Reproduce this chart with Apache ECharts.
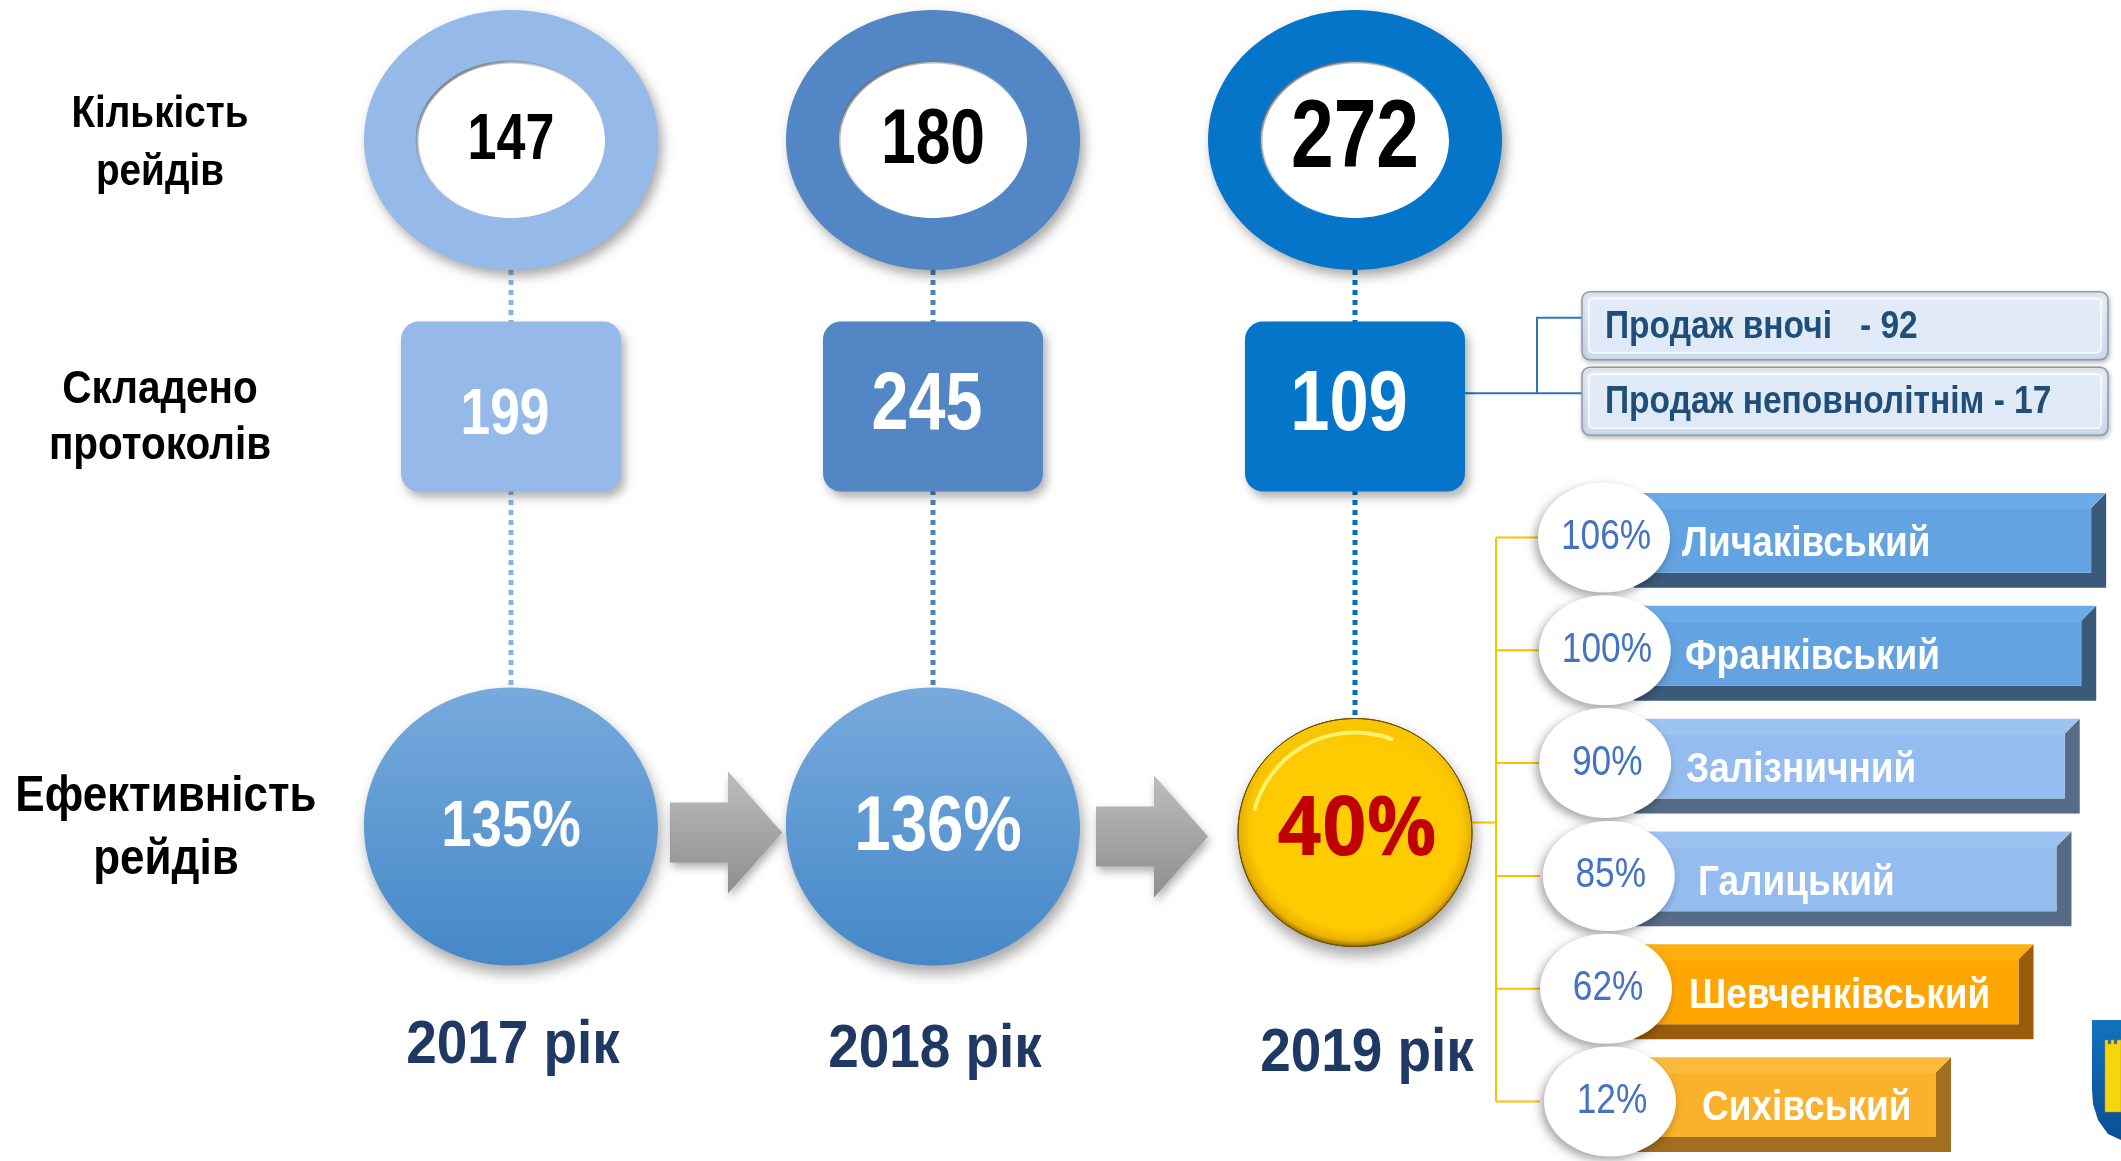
<!DOCTYPE html>
<html><head><meta charset="utf-8">
<script src="https://cdn.jsdelivr.net/npm/echarts@6/dist/echarts.min.js"></script>
<style>html,body{margin:0;padding:0;background:#fff}#c{width:2121px;height:1161px}</style>
</head><body><div id="c"></div>
<script>
// ---------- data ----------
const years = ['2017 рік', '2018 рік', '2019 рік'];
const rowLabels = ['Кількість\nрейдів', 'Складено\nпротоколів', 'Ефективність\nрейдів'];
const raids = [147, 180, 272];
const protocols = [199, 245, 109];
const efficiency = [135, 136, 40];
const breakdownNames = ['Продаж вночі  ', 'Продаж неповнолітнім'];
const breakdownValues = [92, 17];
const districts = ['Личаківський', 'Франківський', 'Залізничний', 'Галицький', 'Шевченківський', 'Сихівський'];
const districtEff = [106, 100, 90, 85, 62, 12];

// ---------- styles ----------
const FONT = '"Liberation Sans", Arial, sans-serif';
const yearColors = ['#95B9E9', '#5286C5', '#0575C9'];
const dotColors = ['#8DB3E2', '#4F81BD', '#0070C0'];
const ringFont = [65, 78, 96];
const boxFont = [65, 81, 86];
const boxTextDy = [10, 0, 0];
const circFont = [65, 78, 82];
const nameDx = [0, 3, 4, 16, 7, 20];
const barPalette = [
  {top: '#6AABE8', face: '#63A3E1', dark: '#3B5A7A'},
  {top: '#6AABE8', face: '#63A3E1', dark: '#3B5A7A'},
  {top: '#9CC3F2', face: '#94BCEE', dark: '#566B86'},
  {top: '#9CC3F2', face: '#94BCEE', dark: '#566B86'},
  {top: '#FFAE10', face: '#FFA602', dark: '#9A5C0A'},
  {top: '#FDBA3C', face: '#FBB12B', dark: '#A26E20'}
];
const G = echarts.graphic;

function txt(x, y, text, size, fill, o) {
  o = o || {};
  const s = {text: String(text), fill: fill, fontSize: size, fontFamily: o.ff || FONT,
    fontWeight: o.fw || 'bold', align: o.align || 'center', verticalAlign: 'middle'};
  if (o.lh) s.lineHeight = o.lh;
  return {type: 'text', x: x, y: y, scaleX: o.sx == null ? 0.84 : o.sx, z2: 20, style: s};
}
function roundRect(x, y, w, h, r) {
  return {x: x, y: y, width: w, height: h, r: r};
}

const chart = echarts.init(document.getElementById('c'));

function hiddenCat(i, data) {
  return {type: 'category', gridIndex: i, data: data, show: false};
}

const option = {
  backgroundColor: '#fff',
  animation: false,
  grid: [
    {left: 300, width: 1266, top: 10, height: 260},
    {left: 300, width: 1266, top: 322, height: 169},
    {left: 300, width: 1266, top: 687, height: 279},
    {left: 1582, width: 526, top: 288, height: 151},
    {left: 1634, width: 487, top: 484, height: 689}
  ],
  xAxis: [
    hiddenCat(0, years), hiddenCat(1, years), hiddenCat(2, years), hiddenCat(3, ['']),
    {type: 'value', gridIndex: 4, min: -180, max: 115, show: false}
  ],
  yAxis: [
    hiddenCat(0, [rowLabels[0]]), hiddenCat(1, [rowLabels[1]]), hiddenCat(2, [rowLabels[2]]),
    {type: 'category', gridIndex: 3, data: breakdownNames, inverse: true, show: false},
    {type: 'category', gridIndex: 4, data: districts, inverse: true, show: false}
  ],
  series: [
    // ---- raids rings ----
    {
      type: 'custom', xAxisIndex: 0, yAxisIndex: 0, z: 3, clip: false,
      data: raids.map((v, i) => [years[i], rowLabels[0], v]),
      renderItem: function (params, api) {
        const i = params.dataIndex;
        const c = api.coord([api.value(0), api.value(1)]);
        return {type: 'group', children: [
          {type: 'ellipse', shape: {cx: c[0], cy: c[1], rx: 147, ry: 130},
            style: {fill: yearColors[i], shadowBlur: 12, shadowOffsetX: 4, shadowOffsetY: 6, shadowColor: 'rgba(0,0,0,0.35)'}},
          {type: 'ellipse', shape: {cx: c[0], cy: c[1], rx: 94, ry: 78},
            style: {fill: '#fff', lineWidth: 3,
              stroke: new G.LinearGradient(0, 0, 0.7, 1, [
                {offset: 0, color: 'rgba(70,70,70,0.85)'}, {offset: 0.45, color: 'rgba(150,150,150,0.35)'},
                {offset: 0.8, color: 'rgba(255,255,255,0)'}, {offset: 1, color: 'rgba(255,255,255,0)'}])}},
          txt(c[0], c[1] + 1, api.value(2), ringFont[i], '#000', {sx: 0.8})
        ]};
      }
    },
    // ---- protocol boxes ----
    {
      type: 'custom', xAxisIndex: 1, yAxisIndex: 1, z: 3, clip: false,
      data: protocols.map((v, i) => [years[i], rowLabels[1], v]),
      renderItem: function (params, api) {
        const i = params.dataIndex;
        const c = api.coord([api.value(0), api.value(1)]);
        return {type: 'group', children: [
          {type: 'rect', shape: roundRect(c[0] - 110, c[1] - 85, 220, 170, 18),
            style: {fill: yearColors[i], shadowBlur: 10, shadowOffsetX: 4, shadowOffsetY: 6, shadowColor: 'rgba(0,0,0,0.3)'}},
          txt(c[0] - 6, c[1] + boxTextDy[i], api.value(2), boxFont[i], '#fff', {sx: 0.82})
        ]};
      }
    },
    // ---- efficiency circles + year labels ----
    {
      type: 'custom', xAxisIndex: 2, yAxisIndex: 2, z: 3, clip: false,
      data: efficiency.map((v, i) => [years[i], rowLabels[2], v]),
      renderItem: function (params, api) {
        const i = params.dataIndex;
        const c = api.coord([api.value(0), api.value(1)]);
        const last = i === efficiency.length - 1;
        const kids = [];
        if (last) {
          const cy = c[1] + 6;
          kids.push({type: 'ellipse', shape: {cx: c[0], cy: cy, rx: 117, ry: 114},
            style: {fill: new G.RadialGradient(0.5, 0.46, 0.55, [
              {offset: 0, color: '#FFCE00'}, {offset: 0.84, color: '#FFCA00'},
              {offset: 0.93, color: '#EDB400'}, {offset: 1, color: '#6E5200'}]),
              stroke: '#6B5000', lineWidth: 1,
              shadowBlur: 14, shadowOffsetX: 2, shadowOffsetY: 8, shadowColor: 'rgba(0,0,0,0.35)'}});
          kids.push({type: 'arc', shape: {cx: c[0], cy: cy + 4, r: 104, startAngle: Math.PI * 1.08, endAngle: Math.PI * 1.62},
            style: {stroke: 'rgba(255,245,120,0.9)', lineWidth: 4, fill: null}});
          kids.push(txt(c[0] + 2, cy - 1, api.value(2) + '%', circFont[i], '#C00000',
            {sx: 0.95, ff: '"Open Sans","Noto Sans",sans-serif'}));
        } else {
          kids.push({type: 'ellipse', shape: {cx: c[0], cy: c[1], rx: 147, ry: 139},
            style: {fill: new G.LinearGradient(0, 0, 0, 1, [
              {offset: 0, color: '#77AADD'}, {offset: 1, color: '#4588C8'}]),
              shadowBlur: 14, shadowOffsetX: 3, shadowOffsetY: 8, shadowColor: 'rgba(0,0,0,0.35)'}});
          kids.push(txt(c[0] + i * 5, c[1] + 2, api.value(2) + '%', circFont[i], '#fff', {sx: 0.84}));
        }
        kids.push(txt(c[0] + (last ? 12 : 2), c[1] + 220 + i * 4, years[i], 61, '#1F3864', {sx: 0.9}));
        return {type: 'group', children: kids};
      }
    },
    // ---- breakdown callouts ----
    {
      type: 'custom', xAxisIndex: 3, yAxisIndex: 3, z: 3, clip: false,
      data: breakdownValues.map((v, i) => ['', breakdownNames[i], v]),
      renderItem: function (params, api) {
        const c = api.coord([api.value(0), api.value(1)]);
        const x = params.coordSys.x, w = params.coordSys.width, h = 68, y = c[1] - 34;
        return {type: 'group', children: [
          {type: 'rect', shape: roundRect(x, y, w, h, 8),
            style: {fill: new G.LinearGradient(0, 0, 0, 1, [
              {offset: 0, color: '#EEF3FA'}, {offset: 0.5, color: '#DCE6F5'}, {offset: 1, color: '#CCDAEE'}]),
              stroke: '#8E9BAE', lineWidth: 1.5,
              shadowBlur: 4, shadowOffsetX: 1, shadowOffsetY: 2, shadowColor: 'rgba(0,0,0,0.25)'}},
          {type: 'rect', shape: roundRect(x + 7, y + 7, w - 14, h - 14, 4),
            style: {fill: 'rgba(225,234,247,0.9)', stroke: 'rgba(255,255,255,0.9)', lineWidth: 1.5}},
          txt(x + 23, c[1] + 1, breakdownNames[params.dataIndex] + ' - ' + api.value(2), 39, '#1F4E79',
            {align: 'left', sx: 0.86})
        ]};
      }
    },
    // ---- district bars ----
    {
      type: 'custom', xAxisIndex: 4, yAxisIndex: 4, z: 3, clip: false,
      data: districtEff.map((v, i) => [v, districts[i]]),
      renderItem: function (params, api) {
        const idx = params.dataIndex;
        const v = api.value(0);
        const end = api.coord([v, api.value(1)]);
        const x0 = params.coordSys.x;
        const band = api.size([0, 1])[1];
        const h = band * 0.84;
        const cy = end[1];
        const y0 = cy - h / 2;
        const xe = end[0];
        const d = 15;
        const pal = barPalette[idx];
        const ex = x0 - 30 + nameDx[idx] * 0.3, ey = cy - 3;
        return {
          type: 'group', children: [
            {type: 'polygon', shape: {points: [[x0, y0 + h - d], [xe - d, y0 + h - d], [xe - d, y0 + d], [xe, y0], [xe, y0 + h], [x0, y0 + h]]},
              style: {fill: pal.dark}},
            {type: 'polygon', shape: {points: [[x0, y0], [xe, y0], [xe - d, y0 + d], [xe - d, y0 + h - d], [x0, y0 + h - d]]},
              style: {fill: new G.LinearGradient(0, 0, 0, 1, [
                {offset: 0, color: pal.top}, {offset: 0.2, color: pal.top},
                {offset: 0.21, color: pal.face}, {offset: 1, color: pal.face}])}},
            txt(x0 + 48 + nameDx[idx], cy + 4, districts[idx], 43, '#fff', {align: 'left', sx: 0.86, fw: 'bold'}),
            {type: 'ellipse', shape: {cx: ex, cy: ey, rx: 66, ry: 55},
              style: {fill: '#fff', shadowBlur: 10, shadowOffsetX: -3, shadowOffsetY: 4, shadowColor: 'rgba(0,0,0,0.35)'}},
            txt(ex + 2, ey, v + '%', 42, '#4472C4', {sx: 0.84, fw: 'normal'})
          ]
        };
      }
    }
  ]
};
chart.setOption(option);

// ---------- connectors, row captions & decorations (positions from the axes) ----------
const P = (g, val) => chart.convertToPixel({gridIndex: g}, val);
const gridRect = g => chart.getModel().getComponent('grid', g).coordinateSystem.getRect();
const gfx = [];
// row captions (category labels of the three rows)
const capSizes = [44, 46, 50], capLH = [58, 56, 63], capDy = [4, 12, 2], capDx = [-140, -140, -134];
rowLabels.forEach((lab, r) => {
  const rc = gridRect(r);
  gfx.push(Object.assign(txt(rc.x + capDx[r], rc.y + rc.height / 2 + capDy[r], lab, capSizes[r], '#000',
    {lh: capLH[r], sx: 0.88}), {z: 5}));
});
for (let i = 0; i < 3; i++) {
  const top = P(0, [years[i], rowLabels[0]]);
  const bot = P(2, [years[i], rowLabels[2]]);
  gfx.push({type: 'line', z: 1, shape: {x1: top[0], y1: top[1], x2: bot[0], y2: bot[1]},
    style: {stroke: dotColors[i], lineWidth: 5, lineDash: [5, 5]}});
}
// grey arrows between efficiency circles
for (let i = 0; i < 2; i++) {
  const a = P(2, [years[i], rowLabels[2]]);
  const b = P(2, [years[i + 1], rowLabels[2]]);
  const cx = (a[0] + b[0]) / 2 + 4 + i * 4, cy = a[1] + 6 + i * 4;
  const L = 112, H = 122, bh = 60, hl = 54;
  const x = cx - L / 2, y = cy - H / 2;
  gfx.push({type: 'polygon', z: 2,
    shape: {points: [[x, cy - bh / 2], [x + L - hl, cy - bh / 2], [x + L - hl, y], [x + L, cy], [x + L - hl, y + H], [x + L - hl, cy + bh / 2], [x, cy + bh / 2]]},
    style: {fill: new G.LinearGradient(0, 0, 0, 1, [{offset: 0, color: '#BDBDBD'}, {offset: 1, color: '#8E8E8E'}]),
      shadowBlur: 8, shadowOffsetX: 2, shadowOffsetY: 5, shadowColor: 'rgba(0,0,0,0.3)'}});
}
// blue connectors from 2019 protocols to breakdown
{
  const box = P(1, [years[2], rowLabels[1]]);
  const c1 = P(3, ['', breakdownNames[0]]);
  const c2 = P(3, ['', breakdownNames[1]]);
  const left = gridRect(3).x;
  const y1 = c1[1] - 8, y2 = c2[1] - 8, vx = left - 45;
  gfx.push({type: 'polyline', z: 1, shape: {points: [[box[0] + 110, y2], [left, y2]]}, style: {stroke: '#2E75B6', lineWidth: 2, fill: null}});
  gfx.push({type: 'polyline', z: 1, shape: {points: [[vx, y2], [vx, y1], [left, y1]]}, style: {stroke: '#2E75B6', lineWidth: 2, fill: null}});
}
// yellow connectors from 2019 efficiency to districts
{
  const circ = P(2, [years[2], rowLabels[2]]);
  const first = P(4, [districtEff[0], districts[0]]);
  const last = P(4, [districtEff[districts.length - 1], districts[districts.length - 1]]);
  const vx = gridRect(4).x - 138;
  gfx.push({type: 'polyline', z: 1, shape: {points: [[circ[0] + 110, circ[1] - 4], [vx, circ[1] - 4]]}, style: {stroke: '#FFC000', lineWidth: 2, fill: null}});
  gfx.push({type: 'polyline', z: 1, shape: {points: [[vx, first[1] - 3], [vx, last[1] - 3]]}, style: {stroke: '#FFC000', lineWidth: 2, fill: null}});
  districts.forEach((d, i) => {
    const p = P(4, [districtEff[i], d]);
    gfx.push({type: 'polyline', z: 1, shape: {points: [[vx, p[1] - 3], [vx + 44, p[1] - 3]]}, style: {stroke: '#FFC000', lineWidth: 2, fill: null}});
  });
}
// coat of arms fragment (decoration, bottom right)
gfx.push({type: 'polygon', z: 5,
  shape: {points: [[2092, 1020], [2121, 1020], [2121, 1140], [2108, 1134], [2098, 1120], [2093, 1104], [2092, 1090]]},
  style: {fill: new G.LinearGradient(0, 0, 0, 1, [{offset: 0, color: '#1272BE'}, {offset: 1, color: '#0A4E92'}])}});
gfx.push({type: 'polygon', z: 6,
  shape: {points: [[2105, 1040], [2108, 1040], [2108, 1044], [2111, 1044], [2111, 1040], [2114, 1040], [2114, 1044], [2117, 1044], [2117, 1040], [2121, 1040], [2121, 1112], [2105, 1112]]},
  style: {fill: '#F6D40E', stroke: '#B89A00', lineWidth: 0.5}});
chart.setOption({graphic: gfx});
</script>
</body></html>
